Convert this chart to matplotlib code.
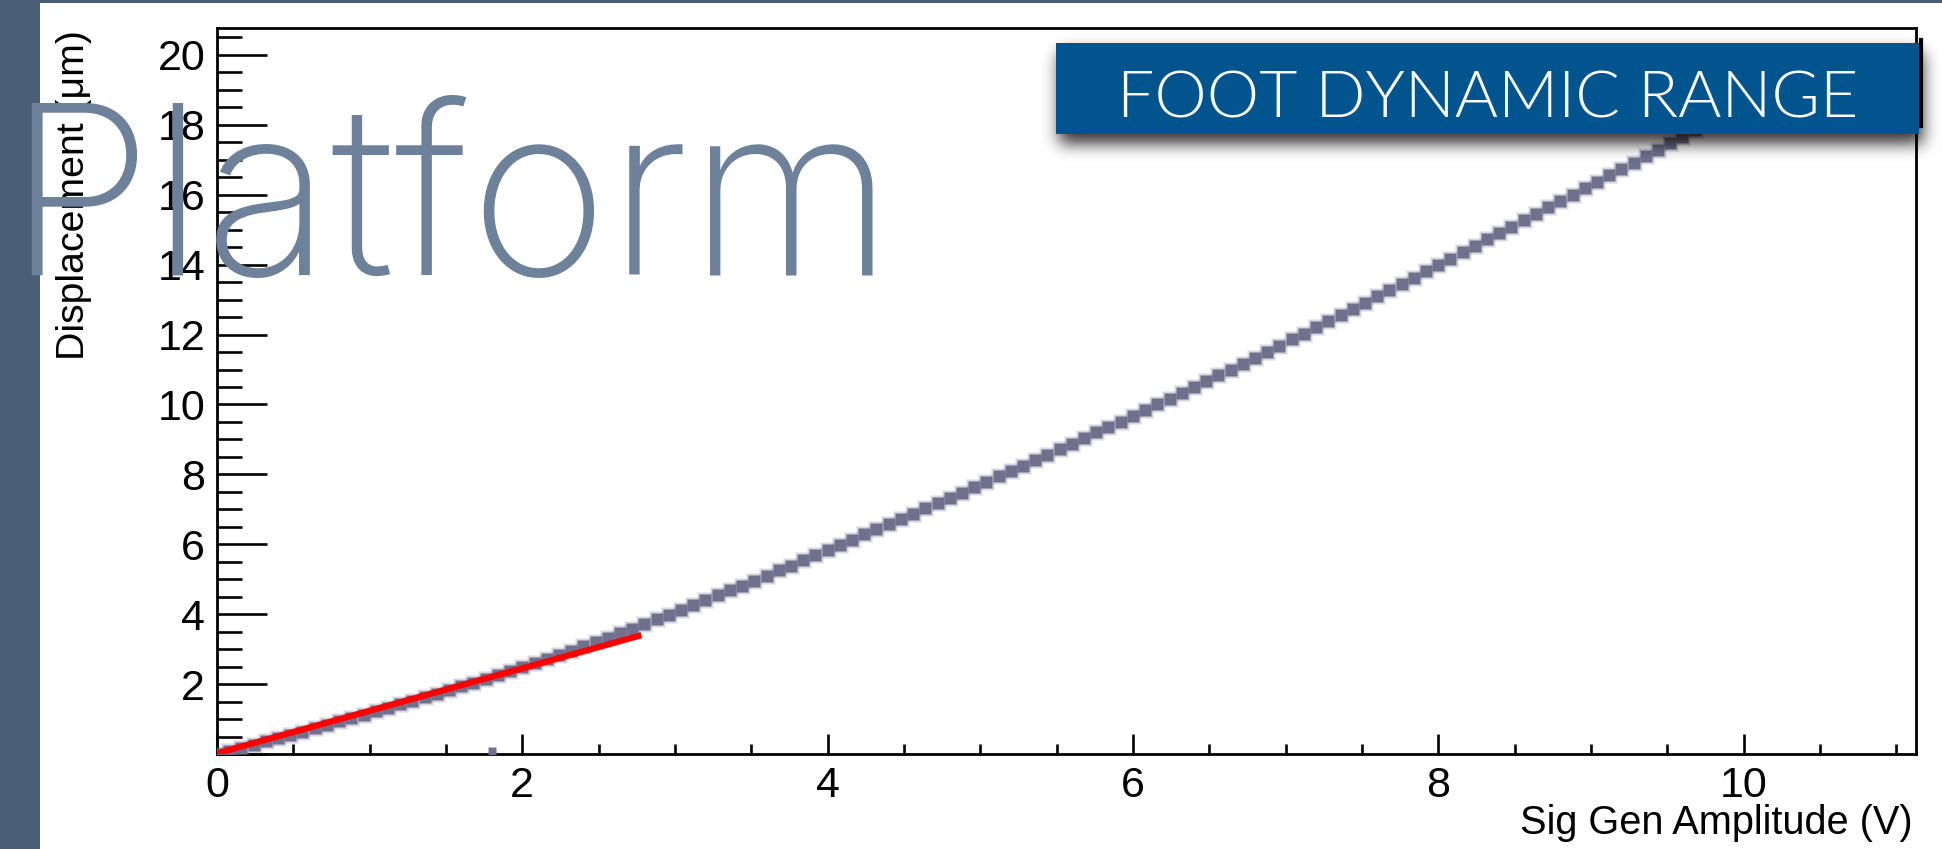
import numpy as np
import matplotlib
matplotlib.use("Agg")
import matplotlib.pyplot as plt
from matplotlib import font_manager as fm
from matplotlib.patches import Rectangle
from matplotlib.textpath import TextPath
from matplotlib.ticker import MultipleLocator, FuncFormatter

# ==========================================================
# DATA
# ==========================================================

amplitude = [
    0.00, 0.08, 0.16, 0.24, 0.32, 0.40, 0.48, 0.56, 0.64, 0.72,
    0.80, 0.88, 0.96, 1.04, 1.12, 1.20, 1.28, 1.36, 1.44, 1.52,
    1.60, 1.68, 1.76, 1.84, 1.92, 2.00, 2.08, 2.16, 2.24, 2.32,
    2.40, 2.48, 2.56, 2.64, 2.72, 2.80, 2.88, 2.96, 3.04, 3.12,
    3.20, 3.28, 3.36, 3.44, 3.52, 3.60, 3.68, 3.76, 3.84, 3.92,
    4.00, 4.08, 4.16, 4.24, 4.32, 4.40, 4.48, 4.56, 4.64, 4.72,
    4.80, 4.88, 4.96, 5.04, 5.12, 5.20, 5.28, 5.36, 5.44, 5.52,
    5.60, 5.68, 5.76, 5.84, 5.92, 6.00, 6.08, 6.16, 6.24, 6.32,
    6.40, 6.48, 6.56, 6.64, 6.72, 6.80, 6.88, 6.96, 7.04, 7.12,
    7.20, 7.28, 7.36, 7.44, 7.52, 7.60, 7.68, 7.76, 7.84, 7.92,
    8.00, 8.08, 8.16, 8.24, 8.32, 8.40, 8.48, 8.56, 8.64, 8.72,
    8.80, 8.88, 8.96, 9.04, 9.12, 9.20, 9.28, 9.36, 9.44, 9.52,
    9.60, 9.68, 9.76, 9.84, 9.92, 10.00,
]

displacement = [
    0.00, 0.09, 0.18, 0.27, 0.36, 0.46, 0.55, 0.64, 0.74, 0.83,
    0.93, 1.03, 1.12, 1.22, 1.32, 1.42, 1.52, 1.62, 1.72, 1.83,
    1.94, 2.04, 2.15, 2.26, 2.37, 2.48, 2.60, 2.72, 2.84, 2.96,
    3.08, 3.20, 3.33, 3.46, 3.59, 3.72, 3.85, 3.98, 4.12, 4.26,
    4.40, 4.54, 4.68, 4.82, 4.96, 5.10, 5.25, 5.39, 5.54, 5.68,
    5.83, 5.98, 6.13, 6.28, 6.43, 6.57, 6.72, 6.87, 7.03, 7.18,
    7.33, 7.48, 7.63, 7.79, 7.94, 8.10, 8.25, 8.41, 8.56, 8.72,
    8.88, 9.04, 9.20, 9.35, 9.51, 9.67, 9.84, 10.00, 10.16, 10.33,
    10.49, 10.66, 10.83, 11.00, 11.17, 11.34, 11.51, 11.68, 11.86, 12.03,
    12.21, 12.39, 12.56, 12.74, 12.91, 13.09, 13.27, 13.45, 13.63, 13.81,
    13.99, 14.17, 14.36, 14.54, 14.72, 14.90, 15.08, 15.27, 15.45, 15.64,
    15.82, 16.00, 16.19, 16.37, 16.56, 16.74, 16.92, 17.11, 17.29, 17.48,
    17.66, 17.84, 18.02, 18.21, 18.39, 18.57,
]

# single low reading near 1.8 V
stray_amplitude = [1.8]
stray_displacement = [0.09]

# linear fit over the low-amplitude region
fit_amplitude = [0.0, 2.78]
fit_displacement = [0.02, 3.40]

x_label = "Sig Gen Amplitude (V)"
y_label = "Displacement (\u03bcm)"
slide_title = "Platform"
banner_text = "FOOT DYNAMIC RANGE"

# ==========================================================
# STYLE
# ==========================================================

W, H = 1942, 849
SLATE = "#4a5e78"
TITLE_GREY = "#6d819b"
BANNER_BLUE = "#02548f"
MARKER = "#70708d"

plt.rcParams["font.family"] = ["Liberation Sans", "DejaVu Sans"]


def pick_face(families, target_weight):
    # closest-weight face among installed families, in order of preference
    best = None
    for f in fm.fontManager.ttflist:
        name = f.name
        fam = next((c for c in families if name == c or name.startswith(c + " ")), None)
        if fam is None or "CJK" in name or "Mono" in name or f.style != "normal":
            continue
        w = f.weight if isinstance(f.weight, (int, float)) else fm.weight_dict.get(f.weight, 400)
        key = (abs(w - target_weight), families.index(fam))
        if best is None or key < best[0]:
            best = (key, f.fname)
    if best is None:
        return fm.FontProperties(family="DejaVu Sans")
    return fm.FontProperties(fname=best[1])


def cap_height(prop):
    return TextPath((0, 0), "H", size=100, prop=prop).get_extents().height


def size_for_cap(prop, cap_px):
    return cap_px / cap_height(prop) * 100 * 72 / 100


families = ["Lato", "Roboto", "Open Sans", "Inter", "Noto Sans", "DejaVu Sans"]
banner_face = pick_face(families, 300)
title_face = pick_face(families, 200)

# title size: halfway (geometric) between fitting its height and its width
title_w = TextPath((0, 0), slide_title, size=100, prop=title_face).get_extents().width
title_px = np.sqrt((168 / cap_height(title_face) * 100) * (860 / title_w * 100))
title_pt = title_px * 72 / 100

# ==========================================================
# FIGURE
# ==========================================================

fig = plt.figure(figsize=(W / 100, H / 100), dpi=100, facecolor="white")

def fx(px):
    return px / W

def fy(py):
    return 1 - py / H

ax = fig.add_axes([fx(217), fy(754), fx(1916) - fx(217), fy(28) - fy(754)])

ax.plot(amplitude, displacement, ls="none", marker="s", ms=11.5,
        mfc=MARKER, mec="none", alpha=0.28, zorder=3)
ax.plot(amplitude, displacement, ls="none", marker="s", ms=8.2,
        mfc=MARKER, mec="none", zorder=3)
ax.plot(stray_amplitude, stray_displacement, ls="none", marker="s", ms=6.0,
        mfc=MARKER, mec="none", zorder=3)

ax.plot(fit_amplitude, fit_displacement, color="red", lw=4.5,
        solid_capstyle="butt", zorder=4)

ax.set_xlim(0, 11.13)
ax.set_ylim(0, 20.77)

ax.xaxis.set_major_locator(MultipleLocator(2))
ax.xaxis.set_minor_locator(MultipleLocator(0.5))
ax.yaxis.set_major_locator(MultipleLocator(2))
ax.yaxis.set_minor_locator(MultipleLocator(0.5))
ax.yaxis.set_major_formatter(FuncFormatter(lambda v, p: "" if abs(v) < 1e-9 else f"{v:g}"))

for s in ax.spines.values():
    s.set_linewidth(2.0)

ax.tick_params(axis="both", which="both", direction="in", width=1.9,
               top=False, right=False, labelsize=31, pad=8.5)
ax.tick_params(axis="y", which="major", length=36)
ax.tick_params(axis="y", which="minor", length=18)
ax.tick_params(axis="x", which="major", length=14.5)
ax.tick_params(axis="x", which="minor", length=7.2)

fig.text(fx(1913), fy(834), x_label, ha="right", va="baseline", fontsize=28.6)
fig.text(fx(74), fy(30), y_label, ha="center", va="top", rotation=90, fontsize=28.3)

# ==========================================================
# SLIDE OVERLAY
# ==========================================================

over = fig.add_axes([0, 0, 1, 1], zorder=5)
over.set_xlim(0, W)
over.set_ylim(H, 0)
over.axis("off")

over.add_patch(Rectangle((0, 0), 40, H, color=SLATE, lw=0))
over.add_patch(Rectangle((40, 0), W - 40, 2.5, color=SLATE, lw=0))

# banner with soft drop shadow
bx0, bx1, by0, by1 = 1056, 1919, 43, 134
pad = 45
sw, sh = (bx1 - bx0) + 2 * pad, (by1 - by0) + 2 * pad
mask = np.zeros((sh, sw))
mask[pad + 10:pad + 10 + (by1 - by0), pad + 3:pad + 3 + (bx1 - bx0)] = 1.0
t = np.arange(-24, 25)
kern = np.exp(-0.5 * (t / 8.0) ** 2)
kern /= kern.sum()
mask = np.apply_along_axis(lambda r: np.convolve(r, kern, mode="same"), 1, mask)
mask = np.apply_along_axis(lambda c: np.convolve(c, kern, mode="same"), 0, mask)
shadow = np.zeros((sh, sw, 4))
shadow[..., 3] = 0.8 * mask
over.imshow(shadow, extent=(bx0 - pad, bx0 - pad + sw, by0 - pad + sh, by0 - pad),
            interpolation="bilinear", aspect="auto", zorder=1)
over.set_xlim(0, W)
over.set_ylim(H, 0)

over.plot([1921, 1921], [40, 126], color="black", lw=3, zorder=1.5)
over.add_patch(Rectangle((bx0, by0), bx1 - bx0, by1 - by0, color=BANNER_BLUE, lw=0, zorder=2))
over.text((bx0 + bx1) / 2, 117, banner_text, ha="center", va="baseline", color="white",
          fontproperties=banner_face, fontsize=size_for_cap(banner_face, 46.8), zorder=3)

over.text(6, 275, slide_title, ha="left", va="baseline", color=TITLE_GREY,
          fontproperties=title_face, fontsize=title_pt, zorder=4)

fig.savefig("out.png", dpi=100, facecolor="white")
